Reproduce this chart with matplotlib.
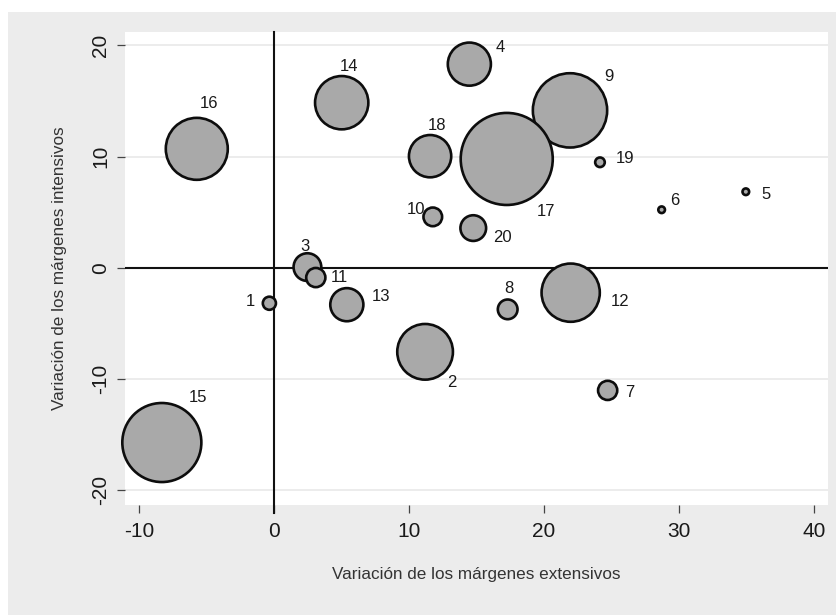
import matplotlib
matplotlib.use("Agg")
import matplotlib.pyplot as plt
from matplotlib.patches import Rectangle

plt.rcParams['font.family'] = ['Liberation Sans', 'DejaVu Sans']
plt.rcParams['axes.unicode_minus'] = False

# datos por sector: variación de márgenes extensivos / intensivos y peso
sector = [str(i) for i in range(1, 21)]
mg_ext = [-0.35, 11.19, 2.47, 14.47, 34.96, 28.72, 24.72, 17.31, 21.93, 11.76,
          3.09, 21.98, 5.39, 5.01, -8.32, -5.73, 17.24, 11.56, 24.15, 14.76]
mg_int = [-3.2, -7.57, 0.05, 18.31, 6.83, 5.21, -11.04, -3.75, 14.15, 4.57,
          -0.89, -2.25, -3.33, 14.84, -15.73, 10.69, 9.78, 10.03, 9.48, 3.56]
peso = [4.3, 77.5, 19.2, 46.4, 1.1, 1.1, 9.2, 9.7, 138.0, 8.7,
        9.2, 84.8, 27.4, 71.0, 156.2, 96.0, 211.8, 44.7, 2.3, 16.5]

# posición de cada etiqueta respecto a su burbuja (en puntos)
desplaz = [(-19, 2), (27, -31), (-2, 21), (31, 17), (20, -3), (13, 9), (22, -2),
           (1, 21), (39, 34), (-17, 7), (24, 0), (49, -9), (34, 8), (7, 36),
           (36, 45), (12, 45), (39, -53), (7, 31), (25, 4), (29, -9)]

W, H = 837, 615
fig = plt.figure(figsize=(W / 100, H / 100), dpi=100, facecolor='white')

# fondo gris del gráfico
fig.patches.append(Rectangle((8 / W, 0), (W - 8) / W, (H - 12) / H,
                             transform=fig.transFigure, facecolor='#ececec',
                             edgecolor='none', zorder=-10))

ax = fig.add_axes([125 / W, 1 - 505 / H, (828 - 125) / W, (505 - 32) / H])
ax.set_facecolor('white')
for s in ax.spines.values():
    s.set_visible(False)

ax.set_xlim(-11.05, 41.05)
ax.set_ylim(-21.35, 21.2)
ax.set_xticks([-10, 0, 10, 20, 30, 40])
ax.set_yticks([-20, -10, 0, 10, 20])
ax.tick_params(direction='out', length=5.8, width=0.9, color='#444444',
               labelsize=15, labelcolor='#1a1a1a')
ax.tick_params(axis='x', pad=6.5)
ax.tick_params(axis='y', pad=5)
for lab in ax.get_yticklabels():
    lab.set_rotation(90)
    lab.set_va('center')

ax.grid(axis='y', color='#ebebeb', lw=1.3, zorder=0)
ax.set_axisbelow(True)

ax.axhline(0, color='#111111', lw=1.5, zorder=1)
ax.axvline(0, color='#111111', lw=1.5, zorder=1, ymin=-0.017, ymax=1, clip_on=False)

ax.scatter(mg_ext, mg_int, s=[p * 20.736 for p in peso], facecolor='#a9a9a9',
           edgecolor='#0d0d0d', linewidth=1.9, zorder=3, clip_on=False)

for lab, x, y, (dx, dy) in zip(sector, mg_ext, mg_int, desplaz):
    ax.annotate(lab, (x, y), xytext=(dx * 0.72, dy * 0.72), textcoords='offset points',
                ha='center', va='center', fontsize=12, color='#1a1a1a', zorder=4)

ax.set_xlabel('Variación de los márgenes extensivos', fontsize=12.3, color='#333333',
              labelpad=19)
ax.set_ylabel('Variación de los márgenes intensivos', fontsize=12.3, color='#333333',
              labelpad=17)

fig.savefig('out.png', dpi=100)
